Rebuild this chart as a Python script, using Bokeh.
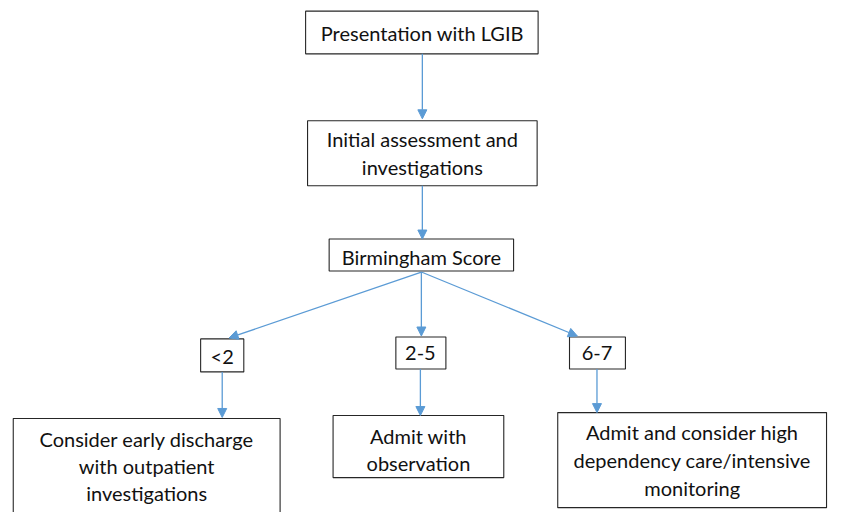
from bokeh.plotting import figure
from bokeh.models import Range1d, Arrow, NormalHead, ColumnDataSource
from bokeh.core.properties import value
from bokeh.embed import file_html
from bokeh.resources import INLINE

# Flowchart content
box_labels = [
    ["Presentation with LGIB"],
    ["Initial assessment and", "investigations"],
    ["Birmingham Score"],
    ["<2"],
    ["2-5"],
    ["6-7"],
    ["Consider early discharge", "with outpatient", "investigations"],
    ["Admit with", "observation"],
    ["Admit and consider high", "dependency care/intensive", "monitoring"],
]
box_left = [311, 313, 335, 204, 403, 580, 13, 339, 568]
box_right = [548, 547, 523, 248, 454, 637, 285, 513, 842]
box_top = [11, 124, 246, 349, 347, 347, 431, 428, 425]
box_bottom = [55, 191, 279, 383, 380, 380, 540, 492, 523]
text_x = [430, 430, 429, 226, 428, 608, 149, 426, 705]
text_y = [[33], [143, 172], [264], [367], [364], [364], [452, 480, 508], [449, 477], [445, 474, 503]]

edges_from = [(430, 55), (430, 191), (429, 280), (429, 280), (429, 280), (226, 383), (428, 380), (608, 380)]
edges_to = [(430, 122), (430, 246), (233, 348), (429, 346), (588, 346), (226, 430), (428, 428), (608, 425)]

W, H = 828, 512
p = figure(width=W, height=H, output_backend="svg", toolbar_location=None,
           x_range=Range1d(0, 844), y_range=Range1d(528, 0),
           min_border=0, outline_line_color=None)
p.axis.visible = False
p.grid.visible = False
p.background_fill_color = "white"
p.border_fill_color = "white"

p.quad(left=box_left, right=box_right, top=box_top, bottom=box_bottom,
       fill_color="white", line_color="#262626", line_width=1.1)

tx, ty, tt = [], [], []
for i, lines in enumerate(box_labels):
    for j, s in enumerate(lines):
        tx.append(text_x[i]); ty.append(text_y[i][j]); tt.append(s)
src = ColumnDataSource(dict(x=tx, y=ty, t=tt))
p.text(x="x", y="y", text="t", source=src, text_align="center", text_baseline="middle",
       text_font=value("Lato"), text_font_size="20px", text_color="#111111")

blue = "#5B9BD5"
for (x0, y0), (x1, y1) in zip(edges_from, edges_to):
    p.add_layout(Arrow(x_start=x0, y_start=y0, x_end=x1, y_end=y1,
                       line_color=blue, line_width=1.3,
                       end=NormalHead(size=9, fill_color=blue, line_color=blue, line_width=1)))

open("out.html", "w").write(file_html(p, INLINE))
